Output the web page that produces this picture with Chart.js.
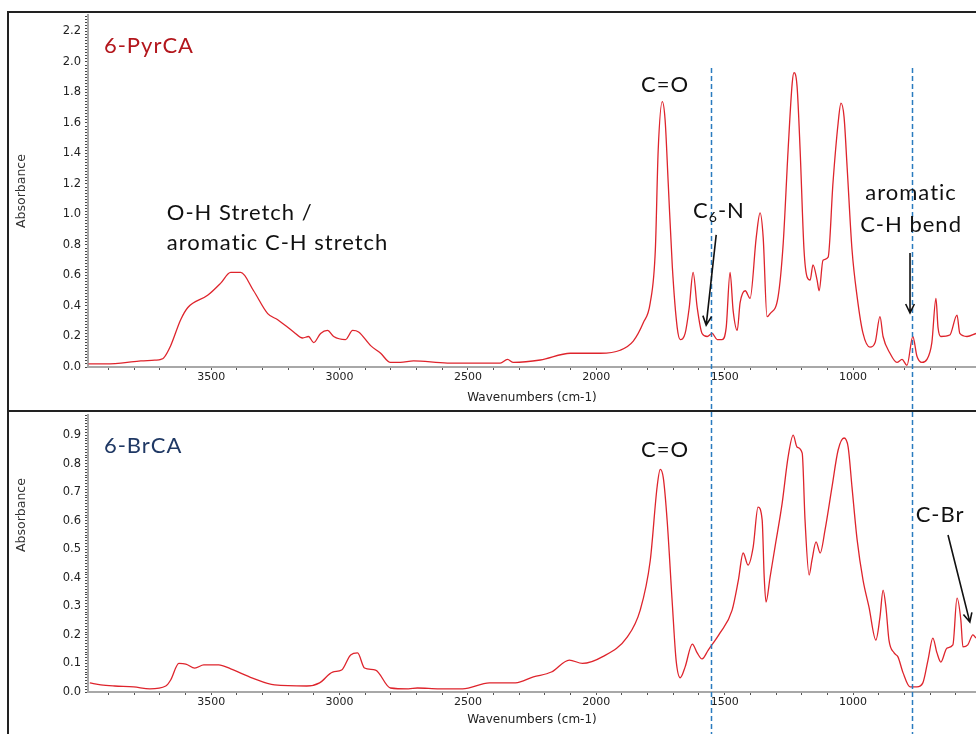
<!DOCTYPE html>
<html>
<head>
<meta charset="utf-8">
<script src="https://cdn.jsdelivr.net/npm/chart.js@4"></script>
<style>
  html, body { margin: 0; padding: 0; background: #fff; overflow: hidden; }
  .panel { position: absolute; left: 7px; border-left: 2px solid #222; border-top: 2px solid #222; }
  #panelTop { top: 11px; width: 967px; height: 397px; }
  #panelBottom { top: 410px; width: 967px; height: 322px; }
  canvas { display: block; }
</style>
</head>
<body>
<div class="panel" id="panelTop"><canvas id="topChart" width="967" height="397"></canvas></div>
<div class="panel" id="panelBottom"><canvas id="bottomChart" width="967" height="322"></canvas></div>
<script>
// tick labels
const xTickLabels = [3500, 3000, 2500, 2000, 1500, 1000];
const topYTickLabels = [0.0, 0.2, 0.4, 0.6, 0.8, 1.0, 1.2, 1.4, 1.6, 1.8, 2.0, 2.2];
const bottomYTickLabels = [0.0, 0.1, 0.2, 0.3, 0.4, 0.5, 0.6, 0.7, 0.8, 0.9];

// dashed guide lines (cm-1)
const markerWavenumbers = [1553, 770];

// 6-PyrCA spectrum
const pyrWavenumbers = [
  3978, 3930, 3852, 3774, 3720, 3696, 3685, 3658, 3619, 3591, 3514, 3463, 3424, 3385, 3335, 3280,
  3241, 3179, 3144, 3121, 3101, 3074, 3047, 3023, 2977, 2949, 2926, 2879, 2840, 2802, 2763, 2712,
  2580, 2374, 2346, 2323, 2218, 2101, 1984, 1907, 1856, 1817, 1790, 1770, 1759, 1743, 1732, 1720,
  1704, 1685, 1673, 1654, 1638, 1623, 1607, 1588, 1568, 1549, 1529, 1510, 1494, 1479, 1467, 1451,
  1440, 1420, 1401, 1377, 1362, 1350, 1335, 1323, 1292, 1272, 1253, 1237, 1230, 1218, 1206, 1191,
  1179, 1167, 1156, 1140, 1132, 1117, 1097, 1078, 1058, 1047, 1035, 1023, 1004, 984, 961, 934,
  914, 895, 883, 856, 829, 809, 790, 767, 751, 732, 712, 693, 677, 669, 658, 623,
  595, 584, 556, 521
];
const pyrAbsorbance = [
  0.02, 0.02, 0.026, 0.04, 0.045, 0.05, 0.06, 0.14, 0.31, 0.39, 0.47, 0.55, 0.62, 0.62, 0.50, 0.35,
  0.31, 0.23, 0.19, 0.20, 0.16, 0.22, 0.24, 0.20, 0.18, 0.24, 0.23, 0.14, 0.09, 0.03, 0.03, 0.04,
  0.026, 0.026, 0.05, 0.03, 0.046, 0.09, 0.09, 0.11, 0.17, 0.29, 0.42, 0.77, 1.42, 1.74, 1.62, 1.21,
  0.66, 0.26, 0.18, 0.22, 0.39, 0.62, 0.39, 0.22, 0.20, 0.22, 0.18, 0.18, 0.26, 0.62, 0.37, 0.24,
  0.42, 0.50, 0.45, 0.85, 1.01, 0.85, 0.33, 0.35, 0.46, 0.81, 1.42, 1.86, 1.93, 1.84, 1.42, 0.77,
  0.59, 0.57, 0.67, 0.57, 0.50, 0.70, 0.72, 1.21, 1.60, 1.73, 1.64, 1.31, 0.77, 0.46, 0.22, 0.13,
  0.16, 0.33, 0.20, 0.09, 0.03, 0.05, 0.01, 0.20, 0.07, 0.03, 0.05, 0.16, 0.45, 0.26, 0.20, 0.21,
  0.34, 0.22, 0.20, 0.22
];

// 6-BrCA spectrum
const brWavenumbers = [
  3973, 3930, 3876, 3802, 3739, 3677, 3658, 3626, 3599, 3564, 3529, 3471, 3424, 3339, 3253, 3128,
  3078, 3027, 2992, 2957, 2930, 2903, 2860, 2802, 2732, 2697, 2611, 2521, 2416, 2315, 2245, 2175,
  2105, 2054, 1977, 1879, 1829, 1790, 1763, 1751, 1739, 1724, 1704, 1689, 1673, 1654, 1626, 1607,
  1588, 1564, 1518, 1471, 1447, 1428, 1409, 1389, 1370, 1354, 1346, 1339, 1323, 1304, 1276, 1253,
  1233, 1218, 1198, 1187, 1171, 1160, 1144, 1128, 1109, 1082, 1058, 1035, 1019, 1004, 984, 961,
  938, 911, 895, 883, 872, 860, 840, 825, 805, 778, 751, 728, 708, 689, 673, 658,
  634, 611, 595, 580, 572, 553, 533, 521
];
const brAbsorbance = [
  0.032, 0.025, 0.021, 0.018, 0.011, 0.021, 0.042, 0.10, 0.098, 0.084, 0.095, 0.095, 0.081, 0.049, 0.025, 0.021,
  0.032, 0.070, 0.077, 0.13, 0.137, 0.084, 0.077, 0.014, 0.011, 0.014, 0.011, 0.011, 0.032, 0.032, 0.053, 0.070,
  0.112, 0.10, 0.123, 0.193, 0.287, 0.46, 0.72, 0.78, 0.75, 0.60, 0.31, 0.11, 0.05, 0.088, 0.168, 0.137,
  0.116, 0.147, 0.207, 0.287, 0.39, 0.487, 0.445, 0.508, 0.648, 0.603, 0.403, 0.315, 0.403, 0.508, 0.662, 0.823,
  0.90, 0.858, 0.837, 0.603, 0.41, 0.462, 0.526, 0.487, 0.568, 0.718, 0.848, 0.89, 0.858, 0.718, 0.533, 0.392,
  0.298, 0.182, 0.263, 0.357, 0.298, 0.182, 0.137, 0.123, 0.067, 0.018, 0.018, 0.032, 0.112, 0.189, 0.137, 0.105,
  0.154, 0.165, 0.329, 0.252, 0.158, 0.165, 0.20, 0.189
];

// band labels, anchored in data units (wavenumber, absorbance of text baseline)
const pyrNotes = [
  { text: "6-PyrCA", wn: 3918, a: 2.06, align: "left", color: "#b3161c" },
  { text: "O-H Stretch /", wn: 3673, a: 0.964, align: "left" },
  { text: "aromatic C-H stretch", wn: 3673, a: 0.767, align: "left" },
  { text: "C=O", wn: 1732, a: 1.805, align: "center" },
  { text: "C", sub: "6", after: "-N", wn: 1623, a: 0.977, align: "left" },
  { text: "aromatic", wn: 774, a: 1.095, align: "center" },
  { text: "C-H bend", wn: 774, a: 0.887, align: "center" }
];
const pyrArrows = [
  { from: [1533, 0.866], to: [1572, 0.275] },
  { from: [778, 0.748], to: [778, 0.354] }
];
const brNotes = [
  { text: "6-BrCA", wn: 3918, a: 0.836, align: "left", color: "#1f3864" },
  { text: "C=O", wn: 1732, a: 0.822, align: "center" },
  { text: "C-Br", wn: 661, a: 0.597, align: "center" }
];
const brArrows = [
  { from: [630, 0.55], to: [545, 0.245] }
];

const noteFont = "Lato, 'Noto Sans', sans-serif";
const axisFont = "'DejaVu Sans', sans-serif";

const decor = {
  id: "decor",
  afterDatasetsDraw(chart, args, opts) {
    const { ctx, scales: { x, y } } = chart;
    ctx.save();

    // dashed guide lines
    ctx.strokeStyle = "#2a7bbf";
    ctx.lineWidth = 1.5;
    ctx.setLineDash([5, 3]);
    markerWavenumbers.forEach(w => {
      const px = Math.round(x.getPixelForValue(w)) + 0.5;
      const top = opts.markerFrom == null ? 0 : y.getPixelForValue(opts.markerFrom);
      ctx.beginPath();
      ctx.moveTo(px, top);
      ctx.lineTo(px, chart.height);
      ctx.stroke();
    });
    ctx.setLineDash([]);

    // labels
    ctx.textBaseline = "alphabetic";
    ctx.letterSpacing = "1px";
    opts.notes.forEach(n => {
      const px = x.getPixelForValue(n.wn);
      const py = y.getPixelForValue(n.a);
      ctx.fillStyle = n.color || "#111";
      ctx.font = "22px " + noteFont;
      if (n.sub) {
        ctx.textAlign = "left";
        let cx = px;
        ctx.fillText(n.text, cx, py);
        cx += ctx.measureText(n.text).width;
        ctx.font = "14px " + noteFont;
        ctx.fillText(n.sub, cx, py + 4);
        cx += ctx.measureText(n.sub).width;
        ctx.font = "22px " + noteFont;
        ctx.fillText(n.after, cx, py);
      } else {
        ctx.textAlign = n.align;
        ctx.fillText(n.text, px, py);
      }
    });
    ctx.letterSpacing = "0px";

    // arrows
    ctx.strokeStyle = "#111";
    ctx.lineWidth = 1.6;
    opts.arrows.forEach(ar => {
      const x1 = x.getPixelForValue(ar.from[0]), y1 = y.getPixelForValue(ar.from[1]);
      const x2 = x.getPixelForValue(ar.to[0]), y2 = y.getPixelForValue(ar.to[1]);
      const ang = Math.atan2(y2 - y1, x2 - x1);
      ctx.beginPath();
      ctx.moveTo(x1, y1);
      ctx.lineTo(x2, y2);
      ctx.moveTo(x2 - 10 * Math.cos(ang - 0.45), y2 - 10 * Math.sin(ang - 0.45));
      ctx.lineTo(x2, y2);
      ctx.lineTo(x2 - 10 * Math.cos(ang + 0.45), y2 - 10 * Math.sin(ang + 0.45));
      ctx.stroke();
    });

    // y axis title
    ctx.fillStyle = "#333";
    ctx.font = "12.5px " + axisFont;
    ctx.textAlign = "center";
    ctx.textBaseline = "middle";
    ctx.translate(13, y.getPixelForValue(opts.yTitleAt));
    ctx.rotate(-Math.PI / 2);
    ctx.fillText("Absorbance", 0, 0);
    ctx.restore();
  }
};

function makeChart(id, wns, abs, cfg) {
  const points = wns.map((w, i) => ({ x: w, y: abs[i] }));
  return new Chart(document.getElementById(id), {
    type: "line",
    data: {
      datasets: [{
        data: points,
        borderColor: "rgb(222, 36, 44)",
        borderWidth: 1.3,
        pointRadius: 0,
        cubicInterpolationMode: "monotone",
        fill: false
      }]
    },
    plugins: [decor],
    options: {
      responsive: false,
      animation: false,
      layout: { padding: { top: cfg.padTop, left: 0, right: 0, bottom: 0 } },
      plugins: {
        legend: { display: false },
        tooltip: { enabled: false },
        decor: { notes: cfg.notes, arrows: cfg.arrows, markerFrom: cfg.markerFrom, yTitleAt: cfg.yTitleAt }
      },
      scales: {
        x: {
          type: "linear",
          reverse: true,
          min: 521,
          max: 3980,
          afterBuildTicks: s => {
            s.ticks = [];
            for (let v = 600; v <= 3900; v += 100) s.ticks.push({ value: v });
          },
          afterFit: s => { s.height = cfg.xHeight; s.paddingLeft = 0; s.paddingRight = 0; },
          ticks: {
            autoSkip: false,
            maxRotation: 0,
            padding: 1,
            color: "#222",
            font: { family: axisFont, size: 11 },
            callback: v => xTickLabels.includes(v) ? String(v) : ""
          },
          grid: { drawOnChartArea: false, tickLength: 3, color: "#555" },
          border: { color: "#a8a8a8", width: 2 },
          title: {
            display: true,
            text: "Wavenumbers (cm-1)",
            color: "#222",
            font: { family: axisFont, size: 12 },
            padding: { top: 0, bottom: cfg.titlePad }
          }
        },
        y: {
          type: "linear",
          min: 0,
          max: cfg.yMax,
          afterBuildTicks: s => {
            s.ticks = [];
            const n = Math.floor(cfg.yMax / cfg.yStep + 1e-6);
            for (let i = 0; i <= n; i++) s.ticks.push({ value: +(i * cfg.yStep).toFixed(3) });
          },
          afterFit: s => { s.width = 79; s.paddingTop = 0; s.paddingBottom = 0; },
          ticks: {
            autoSkip: false,
            padding: 4,
            color: "#222",
            font: { family: axisFont, size: 11.5 },
            callback: v => {
              const hit = cfg.yLabels.find(l => Math.abs(l - v) < 1e-6);
              return hit === undefined ? "" : hit.toFixed(1);
            }
          },
          grid: { drawOnChartArea: false, tickLength: 3, color: "#444" },
          border: { color: "#a8a8a8", width: 2 }
        }
      }
    }
  });
}

makeChart("topChart", pyrWavenumbers, pyrAbsorbance, {
  padTop: 2, xHeight: 43, titlePad: 5, yMax: 2.308, yStep: 0.02,
  yLabels: topYTickLabels, notes: pyrNotes, arrows: pyrArrows, markerFrom: 1.96, yTitleAt: 1.154
});
makeChart("bottomChart", brWavenumbers, brAbsorbance, {
  padTop: 3, xHeight: 42, titlePad: 7, yMax: 0.9706, yStep: 0.01,
  yLabels: bottomYTickLabels, notes: brNotes, arrows: brArrows, markerFrom: null, yTitleAt: 0.62
});
</script>
</body>
</html>
